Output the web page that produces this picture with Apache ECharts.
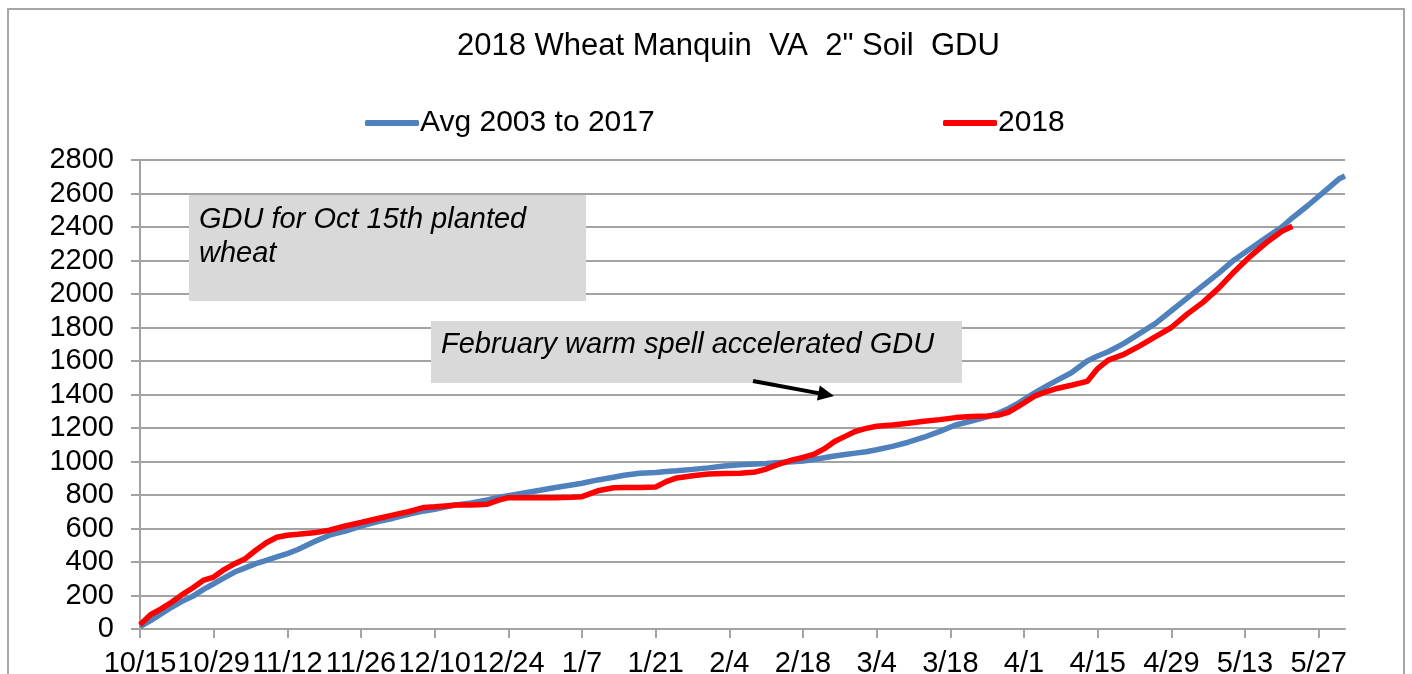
<!DOCTYPE html>
<html>
<head>
<meta charset="utf-8">
<title>2018 Wheat Manquin VA 2" Soil GDU</title>
<script src="https://cdn.jsdelivr.net/npm/echarts@6/dist/echarts.min.js"></script>
<style>
  html, body { margin: 0; padding: 0; background: #fff; }
  #myChart { width: 1412px; height: 674px; }
</style>
</head>
<body>
<div id="myChart"></div>
<script>
// days since 10/15 (planting date)
const days = [0, 2, 4, 6, 8, 10, 12, 14, 16, 18, 20, 22, 24, 26, 28, 30, 33, 36, 39, 42, 45, 48, 51, 54, 56, 58,
  60, 63, 66, 68, 70, 73, 76, 79, 82, 84, 87, 90, 92, 95, 98, 100, 102, 105, 108, 111, 114, 117, 119, 121,
  124, 126, 128, 130, 132, 134, 136, 138, 140, 143, 146, 149, 152, 155, 158, 161, 163, 165, 167, 170, 172,
  174, 177, 180, 182, 184, 187, 190, 193, 196, 199, 202, 205, 208, 211, 214, 217, 219, 222, 225, 228, 229];

const avgValues = [15, 50, 90, 130, 165, 195, 235, 270, 305, 340, 365, 390, 410, 430, 450, 475, 520, 560, 585, 614,
  640, 660, 685, 705, 715, 728, 740, 752, 770, 785, 796, 812, 828, 845, 860, 870, 890, 906, 918, 930, 935, 940,
  945, 953, 962, 973, 980, 985, 988, 992, 998, 1003, 1012, 1022, 1033, 1042, 1050, 1058, 1070, 1090, 1115, 1145,
  1180, 1218, 1242, 1266, 1288, 1315, 1350, 1410, 1445, 1480, 1530, 1600, 1630, 1655, 1705, 1765, 1825, 1900,
  1975, 2050, 2125, 2205, 2270, 2335, 2400, 2455, 2530, 2610, 2690, 2705];

// 2018 stops at 5/22
const values2018 = [25, 85, 120, 160, 205, 245, 290, 310, 355, 390, 420, 470, 515, 548, 560, 565, 574, 590, 615, 636,
  658, 680, 700, 726, 730, 735, 740, 740, 745, 768, 784, 784, 784, 784, 786, 790, 825, 843, 845, 845, 848, 880,
  902, 915, 925, 928, 930, 938, 955, 980, 1010, 1024, 1042, 1075, 1120, 1150, 1180, 1198, 1210, 1218, 1228, 1240,
  1250, 1262, 1268, 1272, 1276, 1294, 1330, 1390, 1414, 1434, 1455, 1478, 1555, 1605, 1640, 1690, 1745, 1800,
  1880, 1950, 2035, 2135, 2225, 2305, 2375, 2405];

const tickDays = [0, 14, 28, 42, 56, 70, 84, 98, 112, 126, 140, 154, 168, 182, 196, 210, 224];
const tickLabels = ['10/15', '10/29', '11/12', '11/26', '12/10', '12/24', '1/7', '1/21', '2/4', '2/18',
  '3/4', '3/18', '4/1', '4/15', '4/29', '5/13', '5/27'];

const fontFamily = '"Liberation Sans", Arial, sans-serif';
const gridColor = '#a3a3a3';

let myChart = echarts.init(document.getElementById('myChart'));
myChart.setOption({
  animation: false,
  backgroundColor: '#fff',
  textStyle: { fontFamily: fontFamily },
  title: {
    text: '2018 Wheat Manquin  VA  2" Soil  GDU',
    left: 457,
    top: 31,
    padding: 0,
    textStyle: { fontSize: 31, fontWeight: 'normal', color: '#000', fontFamily: fontFamily }
  },
  legend: [
    {
      data: ['Avg 2003 to 2017'],
      left: 365,
      top: 108,
      icon: 'roundRect',
      itemWidth: 54,
      itemHeight: 6,
      padding: 0,
      textStyle: { fontSize: 30, color: '#000', padding: [0, 0, 0, -4] }
    },
    {
      data: ['2018'],
      left: 943,
      top: 108,
      icon: 'roundRect',
      itemWidth: 54,
      itemHeight: 6,
      padding: 0,
      textStyle: { fontSize: 30, color: '#000', padding: [0, 0, 0, -4] }
    }
  ],
  grid: { left: 140, right: 67, top: 160, bottom: 45, containLabel: false, outerBoundsMode: 'none' },
  xAxis: {
    type: 'value',
    min: 0,
    max: 229,
    axisLine: { show: true, lineStyle: { color: gridColor, width: 2 } },
    axisTick: { show: true, length: 9, customValues: tickDays, lineStyle: { color: gridColor, width: 2 } },
    axisLabel: {
      customValues: tickDays,
      margin: 20,
      fontSize: 29,
      color: '#000',
      formatter: (v) => {
        const i = tickDays.indexOf(Math.round(v));
        return i >= 0 ? tickLabels[i] : '';
      }
    },
    splitLine: { show: false }
  },
  yAxis: {
    type: 'value',
    min: 0,
    max: 2800,
    interval: 200,
    axisLine: { show: true, lineStyle: { color: gridColor, width: 2 } },
    axisTick: { show: true, length: 9, lineStyle: { color: gridColor, width: 2 } },
    axisLabel: { margin: 26, fontSize: 29, color: '#000', formatter: (v) => String(v) },
    splitLine: { show: true, lineStyle: { color: gridColor, width: 2 } }
  },
  series: [
    {
      name: 'Avg 2003 to 2017',
      type: 'line',
      showSymbol: false,
      color: '#4F81BD',
      lineStyle: { width: 5.5, color: '#4F81BD' },
      data: avgValues.map((v, i) => [days[i], v])
    },
    {
      name: '2018',
      type: 'line',
      showSymbol: false,
      color: '#FF0000',
      lineStyle: { width: 5.5, color: '#FF0000' },
      data: values2018.map((v, i) => [days[i], v])
    }
  ],
  graphic: [
    // chart frame
    { type: 'rect', shape: { x: 8, y: 9, width: 1396, height: 700 }, style: { fill: 'none', stroke: '#a6a6a6', lineWidth: 2 }, z: -1 },
    // note boxes
    { type: 'rect', shape: { x: 189, y: 195, width: 397, height: 106 }, style: { fill: '#d9d9d9' }, z: 10 },
    { type: 'text', style: { x: 199, y: 220, text: 'GDU for Oct 15th planted', font: 'italic 29px ' + fontFamily, fill: '#000', textVerticalAlign: 'middle' }, z: 11 },
    { type: 'text', style: { x: 199, y: 254, text: 'wheat', font: 'italic 29px ' + fontFamily, fill: '#000', textVerticalAlign: 'middle' }, z: 11 },
    { type: 'rect', shape: { x: 431, y: 321, width: 531, height: 62 }, style: { fill: '#d9d9d9' }, z: 10 },
    { type: 'text', style: { x: 441, y: 345, text: 'February warm spell accelerated GDU', font: 'italic 29px ' + fontFamily, fill: '#000', textVerticalAlign: 'middle' }, z: 11 },
    // arrow
    { type: 'line', shape: { x1: 753, y1: 381, x2: 821, y2: 393.6 }, style: { stroke: '#000', lineWidth: 4 }, z: 11 },
    { type: 'polygon', shape: { points: [[834, 396], [817, 400.5], [819.8, 385.6]] }, style: { fill: '#000' }, z: 11 }
  ]
});
window.addEventListener('resize', function () {
  myChart.resize();
});
</script>
</body>
</html>
